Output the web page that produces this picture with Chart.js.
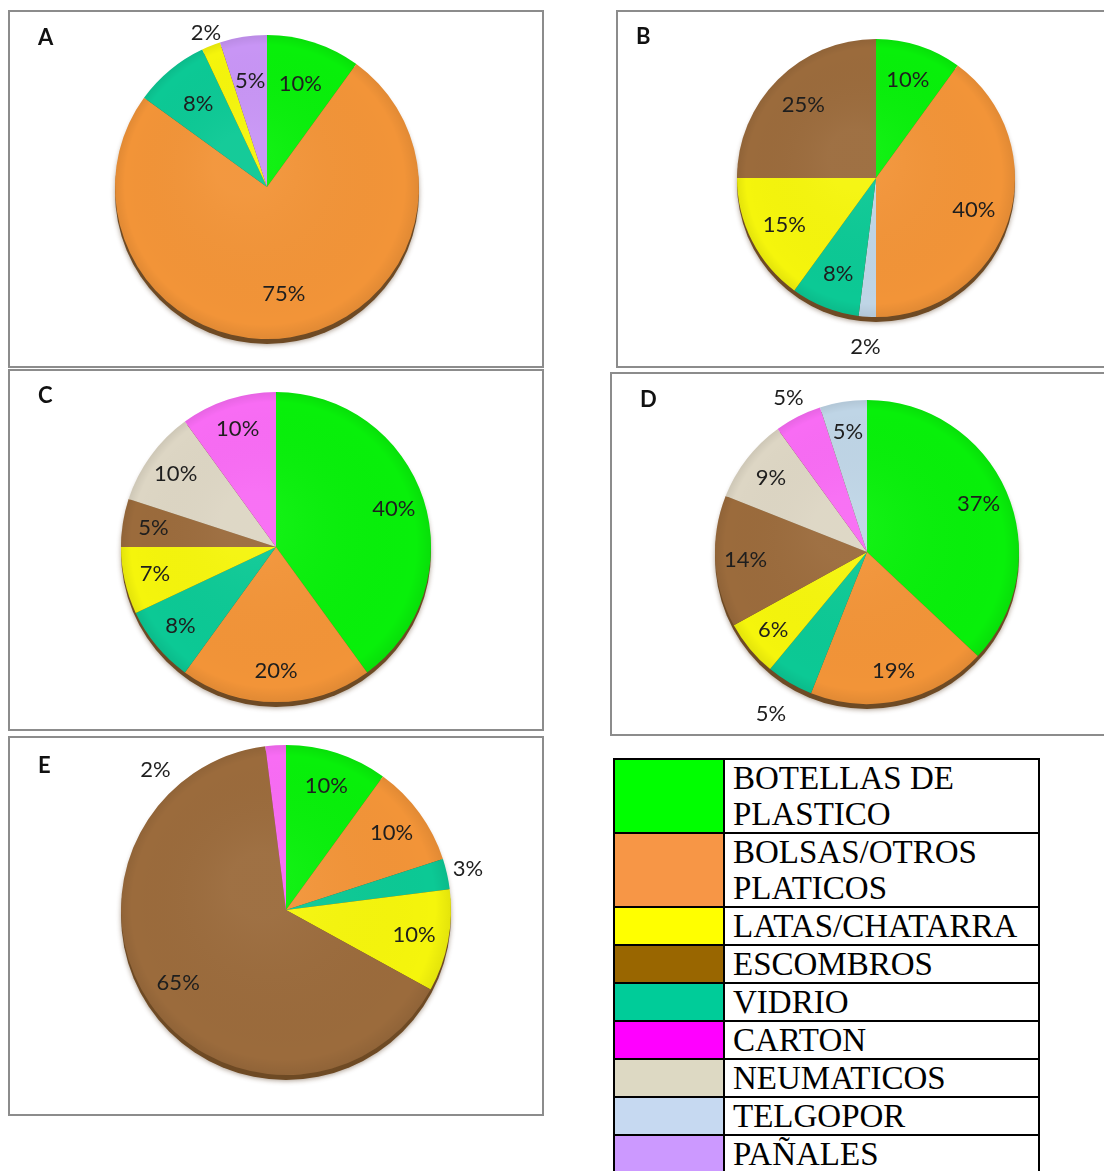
<!DOCTYPE html>
<html lang="es">
<head>
<meta charset="utf-8">
<title>Composición de residuos por sitio</title>
<script src="https://cdn.jsdelivr.net/npm/chart.js@4.4.1/dist/chart.umd.min.js"></script>
<style>
  html, body { margin: 0; padding: 0; background: #fff; }
  body { width: 1104px; height: 1171px; position: relative; overflow: hidden; }
  .panel { position: absolute; border: 2px solid #8c8c8c; box-sizing: border-box; }
  .panel canvas { position: absolute; left: 0; top: 0; }
  table.leyenda {
    position: absolute; left: 613px; top: 758px;
    border-collapse: collapse; table-layout: fixed; width: 427px;
    font-family: 'Liberation Serif', 'Times New Roman', serif;
    font-size: 33px; line-height: 36px; color: #000;
  }
  .leyenda td { border: 2px solid #000; padding: 0 0 0 8px; vertical-align: top; white-space: normal; }
  .leyenda td.sw { padding: 0; }
</style>
</head>
<body>
<table class="leyenda" id="leyenda">
  <colgroup><col style="width:110px"><col></colgroup>
  <tbody></tbody>
</table>
<script>
// categorías de residuos (orden de la tabla de referencias)
const categorias = ['BOTELLAS DE PLASTICO', 'BOLSAS/OTROS PLATICOS', 'LATAS/CHATARRA', 'ESCOMBROS',
  'VIDRIO', 'CARTON', 'NEUMATICOS', 'TELGOPOR', 'PAÑALES'];
const coloresLeyenda = ['#00ff00', '#f79646', '#ffff00', '#996600', '#00cc99', '#ff00ff', '#ddd9c3', '#c6d9f1', '#cc99ff'];
const coloresTorta = ['#08f00a', '#f29438', '#f5f50c', '#9b6b3c', '#0cc995', '#f86cf4', '#ddd6c4', '#bfd5e6', '#c895f5'];

// sitio A
const catsA = ['BOTELLAS DE PLASTICO', 'BOLSAS/OTROS PLATICOS', 'VIDRIO', 'LATAS/CHATARRA', 'PAÑALES'];
const valsA = [10, 75, 8, 2, 5];
// sitio B
const catsB = ['BOTELLAS DE PLASTICO', 'BOLSAS/OTROS PLATICOS', 'TELGOPOR', 'VIDRIO', 'LATAS/CHATARRA', 'ESCOMBROS'];
const valsB = [10, 40, 2, 8, 15, 25];
// sitio C
const catsC = ['BOTELLAS DE PLASTICO', 'BOLSAS/OTROS PLATICOS', 'VIDRIO', 'LATAS/CHATARRA', 'ESCOMBROS', 'NEUMATICOS', 'CARTON'];
const valsC = [40, 20, 8, 7, 5, 10, 10];
// sitio D
const catsD = ['BOTELLAS DE PLASTICO', 'BOLSAS/OTROS PLATICOS', 'VIDRIO', 'LATAS/CHATARRA', 'ESCOMBROS', 'NEUMATICOS', 'CARTON', 'TELGOPOR'];
const valsD = [37, 19, 5, 6, 14, 9, 5, 5];
// sitio E
const catsE = ['BOTELLAS DE PLASTICO', 'BOLSAS/OTROS PLATICOS', 'VIDRIO', 'LATAS/CHATARRA', 'ESCOMBROS', 'CARTON'];
const valsE = [10, 10, 3, 10, 65, 2];

// ubicación de cada recuadro en la página: caja [x, y, ancho, alto], centro y radio de la torta
const paneles = [
  { letra: 'A', cats: catsA, vals: valsA, caja: [8, 10, 536, 358], cx: 267, cy: 187, r: 152, lx: 38, ly: 45,
    interior: 0.71, fuera: { 3: { f: 1.09 } } },
  { letra: 'B', cats: catsB, vals: valsB, caja: [616, 10, 500, 358], cx: 876, cy: 178, r: 139, lx: 636, ly: 44,
    interior: 0.74, fuera: { 2: { f: 1.22 } } },
  { letra: 'C', cats: catsC, vals: valsC, caja: [8, 369, 536, 362], cx: 276, cy: 547, r: 155, lx: 38, ly: 403,
    interior: 0.8, fuera: {} },
  { letra: 'D', cats: catsD, vals: valsD, caja: [610, 372, 500, 364], cx: 867, cy: 552, r: 152, lx: 640, ly: 407,
    interior: 0.8, fuera: { 2: { f: 1.24 }, 6: { f: 1.14 } } },
  { letra: 'E', cats: catsE, vals: valsE, caja: [8, 736, 536, 380], cx: 286, cy: 910, r: 165, lx: 38, ly: 773,
    interior: 0.79, fuera: { 2: { f: 1.13 }, 5: { f: 1.16, deg: 317 } } }
];

const colorDe = nombre => coloresTorta[categorias.indexOf(nombre)];

// sombra bajo la torta, leve relieve en el borde, porcentajes y letra del sitio
const aspectoTorta = {
  id: 'aspectoTorta',
  beforeDatasetsDraw(chart) {
    const arc = chart.getDatasetMeta(0).data[0];
    const { x, y, outerRadius: r } = arc.getProps(['x', 'y', 'outerRadius'], true);
    const ctx = chart.ctx;
    ctx.save();
    ctx.shadowColor = 'rgba(70,40,10,0.45)';
    ctx.shadowBlur = 5;
    ctx.shadowOffsetY = 1;
    ctx.fillStyle = '#6e4a24';
    ctx.beginPath();
    ctx.arc(x, y + 5, r, 0, Math.PI * 2);
    ctx.fill();
    ctx.restore();
  },
  afterDatasetsDraw(chart, args, opts) {
    const ctx = chart.ctx;
    const meta = chart.getDatasetMeta(0);
    const vals = chart.data.datasets[0].data;
    const { x, y, outerRadius: r } = meta.data[0].getProps(['x', 'y', 'outerRadius'], true);

    ctx.save();
    const g = ctx.createRadialGradient(x - r * 0.15, y - r * 0.15, r * 0.2, x, y, r);
    g.addColorStop(0, 'rgba(255,255,255,0.04)');
    g.addColorStop(0.9, 'rgba(0,0,0,0)');
    g.addColorStop(1, 'rgba(0,0,0,0.07)');
    ctx.fillStyle = g;
    ctx.beginPath();
    ctx.arc(x, y, r, 0, Math.PI * 2);
    ctx.fill();

    ctx.font = '22px Lato, "Open Sans", sans-serif';
    ctx.fillStyle = '#1e1e1e';
    ctx.textAlign = 'center';
    ctx.textBaseline = 'middle';
    meta.data.forEach((arc, i) => {
      const p = arc.getProps(['x', 'y', 'startAngle', 'endAngle', 'outerRadius'], true);
      let a = (p.startAngle + p.endAngle) / 2;
      let f = opts.interior;
      const ext = opts.fuera[i];
      if (ext) {
        f = ext.f;
        if (ext.deg != null) a = (ext.deg - 90) * Math.PI / 180;
      }
      ctx.fillText(vals[i] + '%', p.x + Math.cos(a) * p.outerRadius * f, p.y + Math.sin(a) * p.outerRadius * f);
    });

    ctx.font = 'bold 22px Lato, "Open Sans", sans-serif';
    ctx.fillStyle = '#111';
    ctx.textAlign = 'left';
    ctx.textBaseline = 'alphabetic';
    ctx.fillText(opts.letra, opts.lx, opts.ly);
    ctx.restore();
  }
};

paneles.forEach(p => {
  const [bx, by, bw, bh] = p.caja;
  const div = document.createElement('div');
  div.className = 'panel';
  Object.assign(div.style, { left: bx + 'px', top: by + 'px', width: bw + 'px', height: bh + 'px' });
  document.body.appendChild(div);

  // el lienzo empieza dentro del borde y no pasa del ancho de la página
  const ox = bx + 2, oy = by + 2;
  const cw = Math.min(bw - 4, 1104 - ox);
  const ch = bh - 4;
  const canvas = document.createElement('canvas');
  canvas.width = cw;
  canvas.height = ch;
  div.appendChild(canvas);

  new Chart(canvas.getContext('2d'), {
    type: 'pie',
    data: {
      labels: p.cats,
      datasets: [{
        data: p.vals,
        backgroundColor: p.cats.map(colorDe),
        borderWidth: 0,
        hoverOffset: 0,
        offset: 0
      }]
    },
    options: {
      responsive: false,
      animation: false,
      events: [],
      layout: {
        padding: {
          left: p.cx - p.r - ox,
          top: p.cy - p.r - oy,
          right: cw - (p.cx + p.r - ox),
          bottom: ch - (p.cy + p.r - oy)
        }
      },
      plugins: {
        legend: { display: false },
        tooltip: { enabled: false },
        aspectoTorta: {
          letra: p.letra, lx: p.lx - ox, ly: p.ly - oy,
          interior: p.interior, fuera: p.fuera
        }
      }
    },
    plugins: [aspectoTorta]
  });
});

// tabla de referencias
const tbody = document.querySelector('#leyenda tbody');
categorias.forEach((nombre, i) => {
  const tr = document.createElement('tr');
  const sw = document.createElement('td');
  sw.className = 'sw';
  sw.style.background = coloresLeyenda[i];
  const td = document.createElement('td');
  td.textContent = nombre;
  tr.appendChild(sw);
  tr.appendChild(td);
  tbody.appendChild(tr);
});
</script>
</body>
</html>
